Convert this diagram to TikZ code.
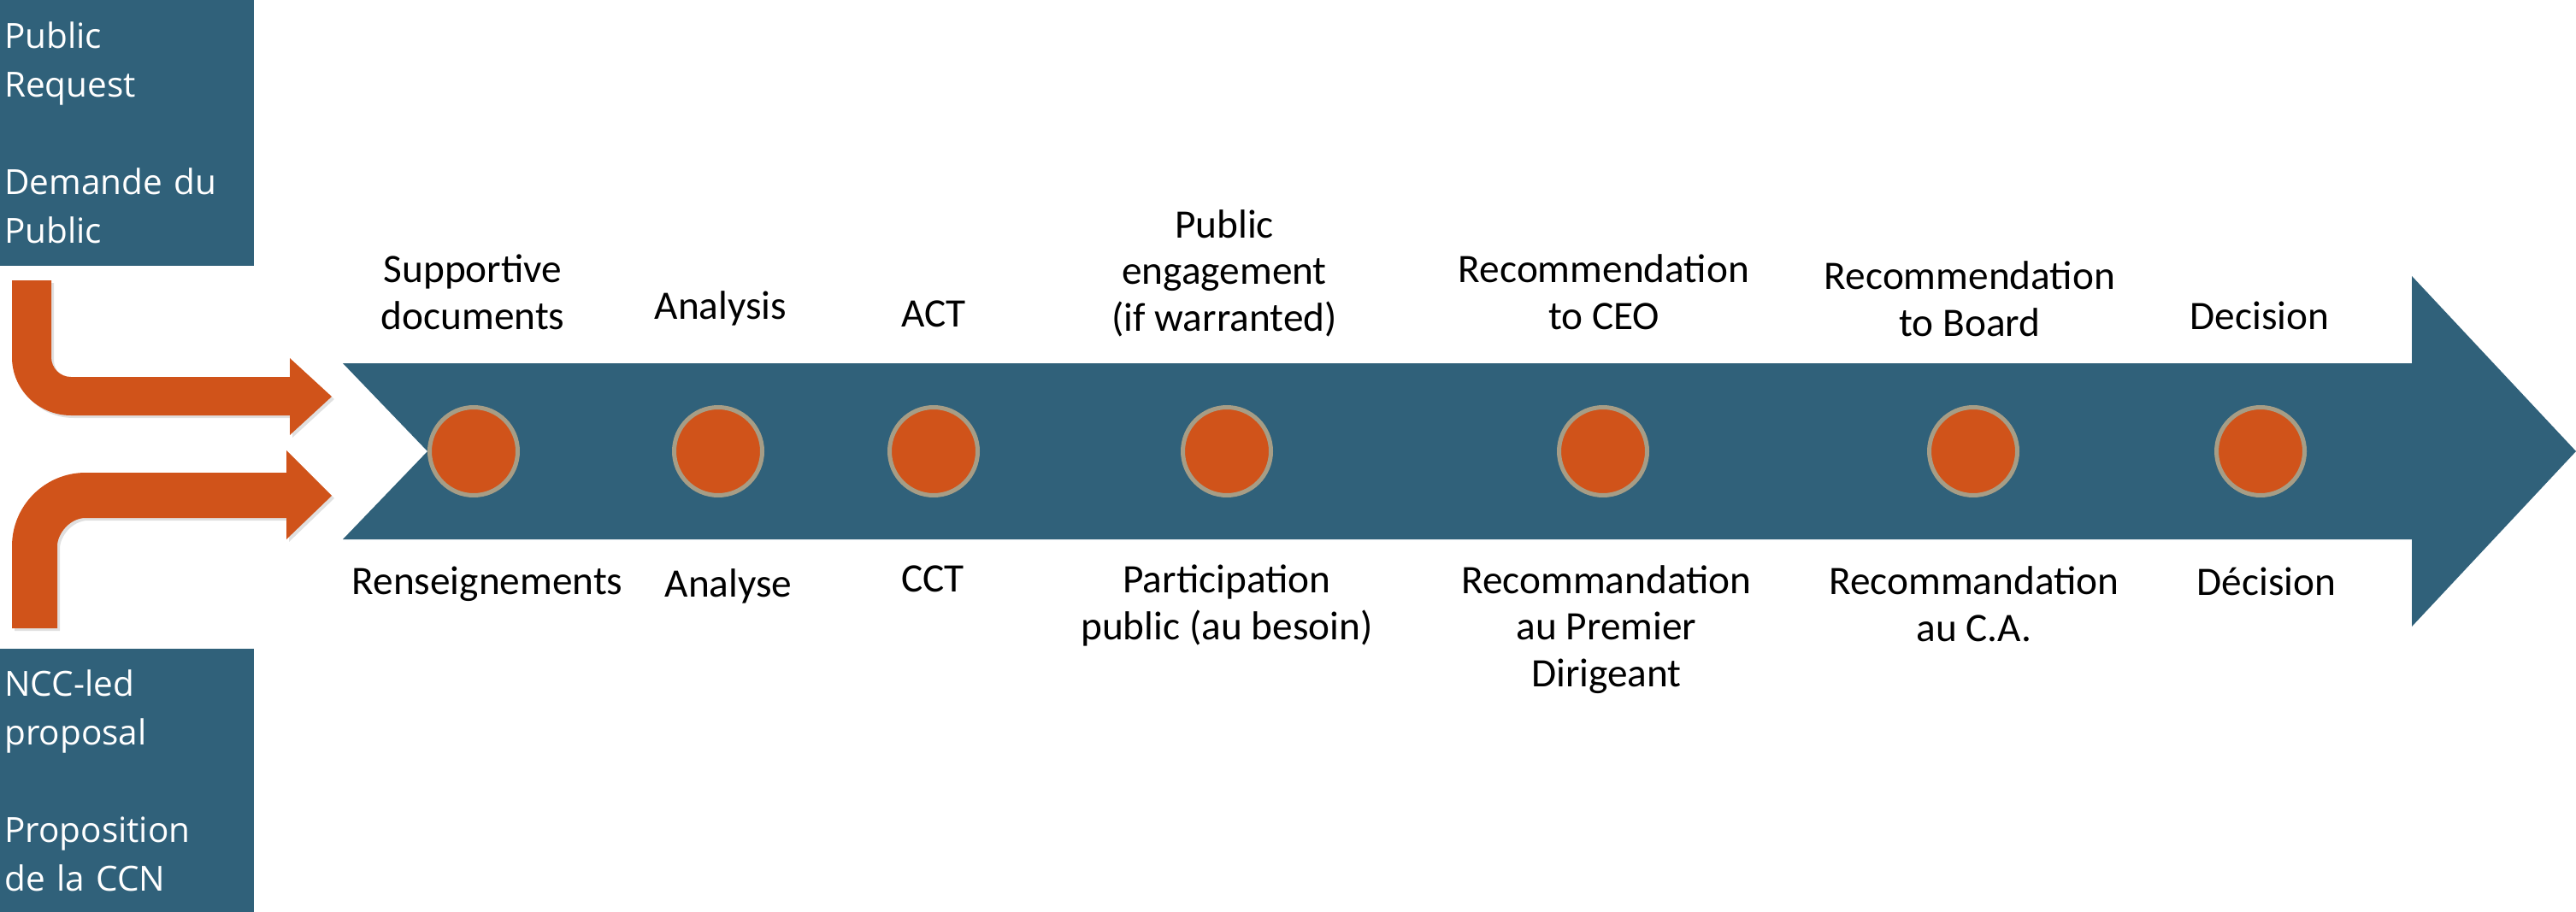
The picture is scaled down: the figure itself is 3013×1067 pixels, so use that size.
\documentclass[tikz,border=0pt]{standalone}
\usepackage{fontspec}
\setmainfont{Carlito}
\newfontfamily\boxfont{Open Sans}
\definecolor{nccblue}{HTML}{30617A}
\definecolor{nccorange}{HTML}{D0531A}
\definecolor{ncctan}{HTML}{A69D86}
\begin{document}
\begin{tikzpicture}[x=1pt,y=-1pt,
  lbl/.style={font=\fontsize{47.3}{54.5}\selectfont, align=center, inner sep=0pt, anchor=base},
  srcbox/.style={fill=nccblue, text=white, font=\boxfont\fontsize{40.5}{57}\selectfont,
    align=left, text width=287pt, inner xsep=5pt, inner ysep=0pt,
    minimum width=297pt, minimum height=311pt, anchor=north west},
  dot/.style={circle, fill=nccorange, draw=ncctan, line width=5pt, minimum size=103pt, inner sep=0pt},
  bent/.style={fill=nccorange},
  bentshadow/.style={fill=black, opacity=0.12}
]
\useasboundingbox (0,0) rectangle (3013,1067);

% source boxes
\node[srcbox] (req) at (0,0) {Public\\Request\\[57pt]Demande du\\Public};
\node[srcbox, minimum height=308pt] (prop) at (0,759) {NCC-led\\proposal\\[57pt]Proposition\\de la CCN};

% main process arrow
\path[fill=nccblue] (401,425) -- (2821,425) -- (2821,323) -- (3013,528) -- (2821,733)
  -- (2821,631) -- (401,631) -- (500,528) -- cycle;

% bent arrows
\foreach \s/\o in {bentshadow/3, bent/0}{
\path[\s, shift={(\o,\o)}] (14,328) -- (60,328) -- (60,418)
  .. controls (60,430.7) and (70.3,441) .. (83,441)
  -- (339,441) -- (339,419) -- (388,464) -- (339,509) -- (339,486) -- (83,486)
  .. controls (44.9,486) and (14,455.6) .. (14,418) -- cycle;
\path[\s, shift={(\o,\o)}] (14,735) -- (14,639)
  .. controls (14,591.5) and (52.5,553) .. (100,553)
  -- (335,553) -- (335,527) -- (388,580) -- (335,631) -- (335,606) -- (100,606)
  .. controls (81.8,606) and (67,624.2) .. (67,639) -- (67,735) -- cycle;
}

% milestones
\node[dot] (m1) at (554,528) {};
\node[dot] (m2) at (840,528) {};
\node[dot] (m3) at (1092,528) {};
\node[dot] (m4) at (1435,528) {};
\node[dot] (m5) at (1875,528) {};
\node[dot] (m6) at (2308,528) {};
\node[dot] (m7) at (2644,528) {};

% English labels (anchored at the baseline of the last line)
\node[lbl] (e1) at (553,385) {Supportive\\documents};
\node[lbl] (e2) at (843,373) {Analysis};
\node[lbl] (e3) at (1092,382) {ACT};
\node[lbl] (e4) at (1432,387) {Public\\engagement\\(if warranted)};
\node[lbl] (e5) at (1876,385) {Recommendation\\to CEO};
\node[lbl] (e6) at (2304,393) {Recommendation\\to Board};
\node[lbl] (e7) at (2643,385) {Decision};

% French labels
\node[lbl] (f1) at (570,695) {Renseignements};
\node[lbl] (f2) at (852,698) {Analyse};
\node[lbl] (f3) at (1091,692) {CCT};
\node[lbl] (f4) at (1435,748) {Participation\\public (au besoin)};
\node[lbl] (f5) at (1879,803) {Recommandation\\au Premier\\Dirigeant};
\node[lbl] (f6) at (2309,750) {Recommandation\\au C.A.};
\node[lbl] (f7) at (2651,696) {Décision};
\end{tikzpicture}
\end{document}
